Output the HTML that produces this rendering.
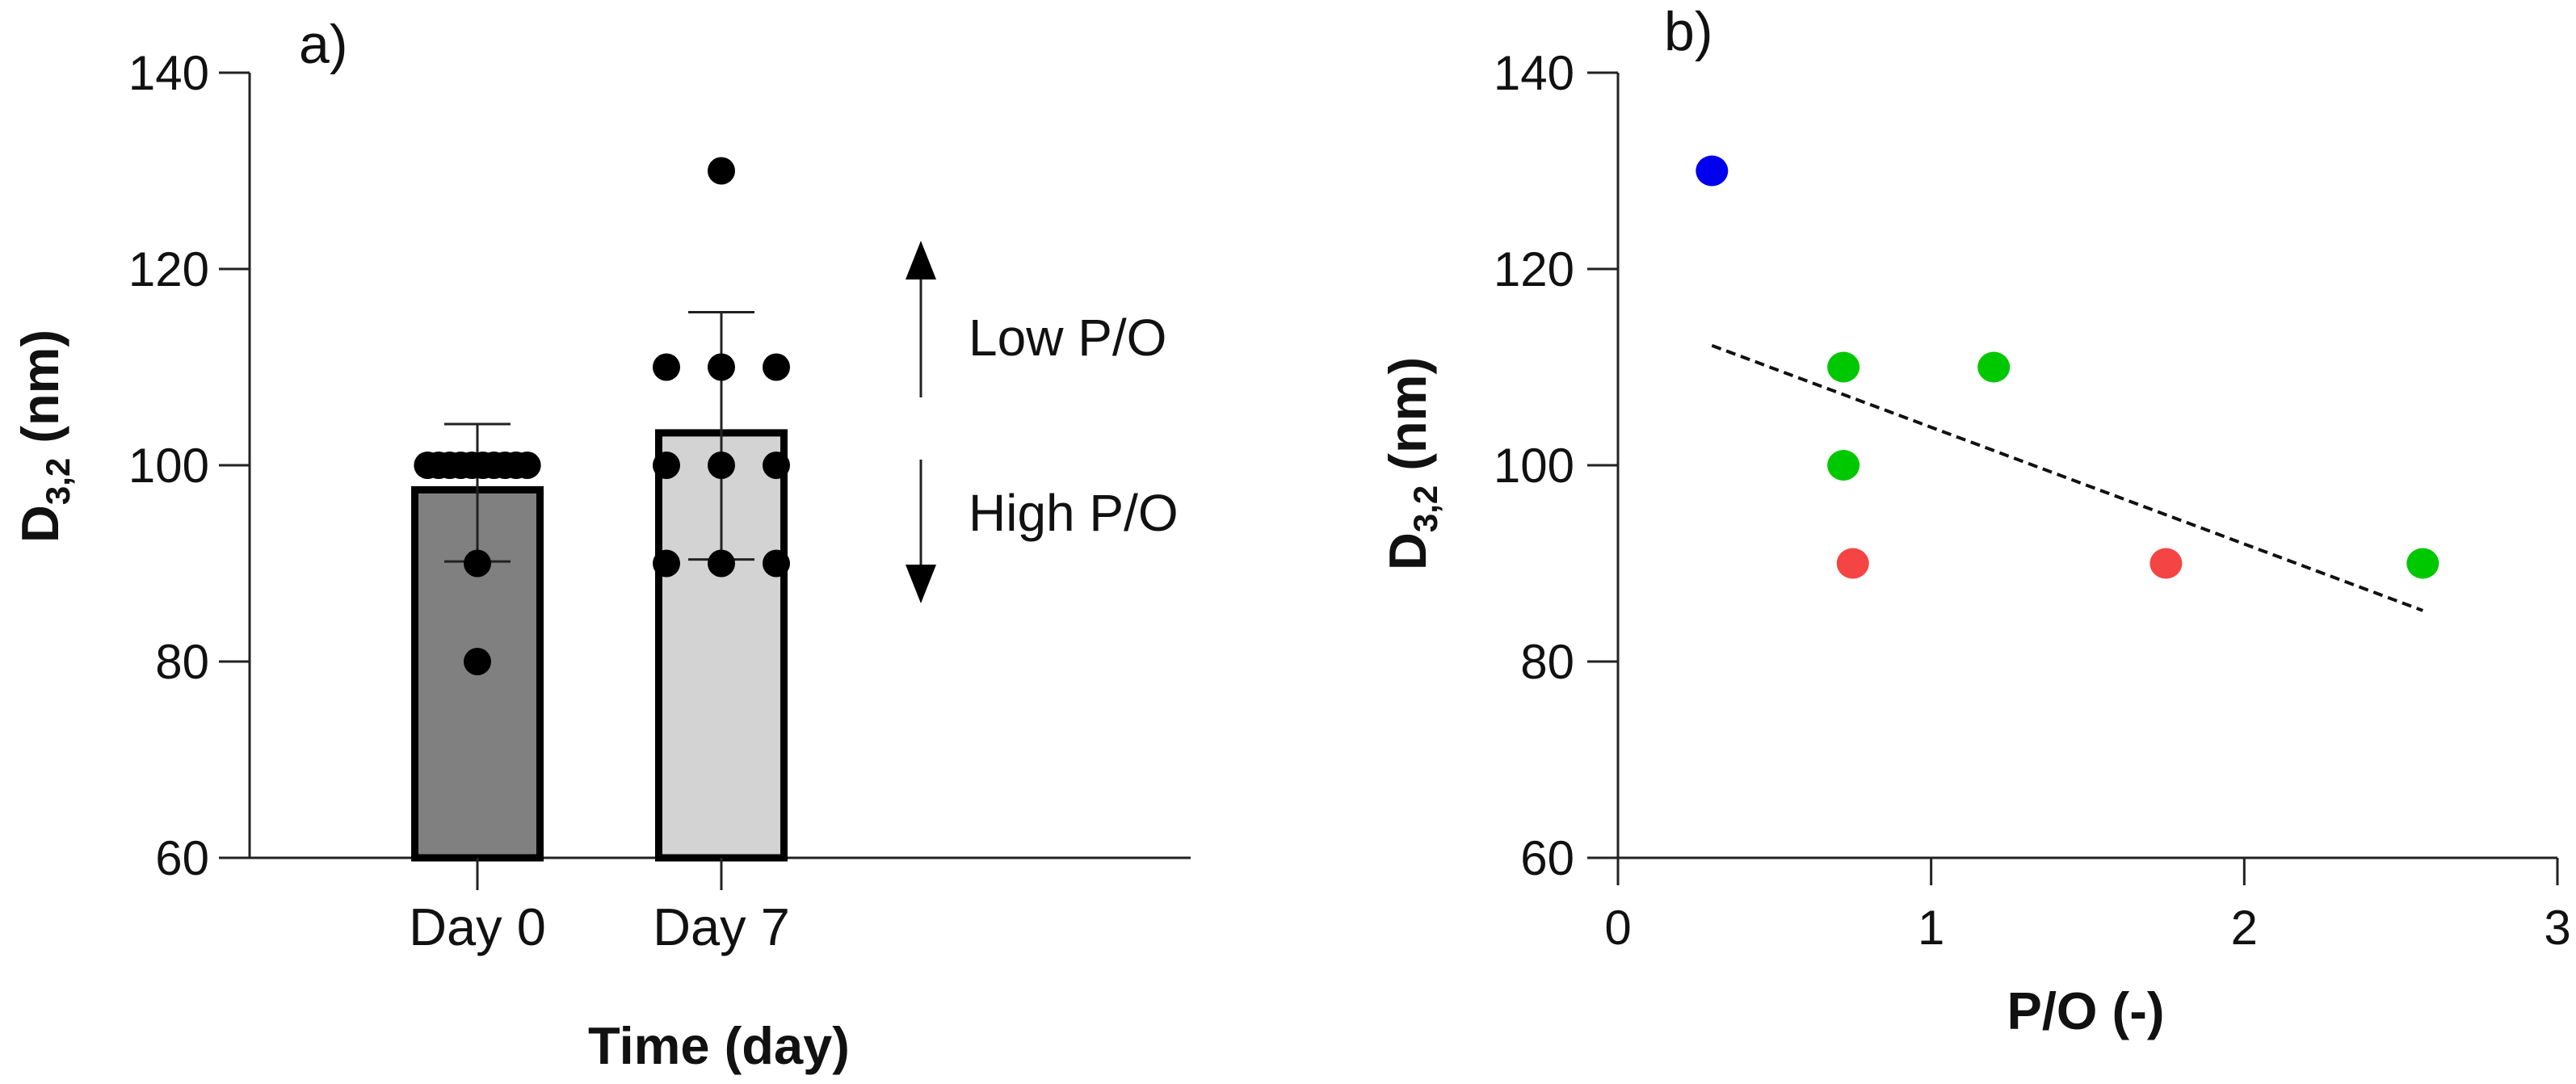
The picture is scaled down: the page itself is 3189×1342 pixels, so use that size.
<!DOCTYPE html>
<html><head><meta charset="utf-8"><style>
html,body{margin:0;padding:0;background:#fff;}
svg{display:block;font-family:"Liberation Sans",Arial,sans-serif;}
</style></head><body>
<svg id="fig" width="3189" height="1342" viewBox="0 0 3189 1342" xmlns="http://www.w3.org/2000/svg">
<g id="panelA"></g>
<g id="panelB"></g>
</svg>
<script>
// ---- Panel a data ----
const barCategories = ["Day 0", "Day 7"];
const barMeans = [97.5, 103.3];
const barErrLow = [90.2, 90.4];
const barErrHigh = [104.2, 115.6];
const day0Points = [100,100,100,100,100,100,100,100,100,100,90,80];
const day7Points = [130,110,110,110,100,100,100,90,90,90];
const yTicksA = [60, 80, 100, 120, 140];
// ---- Panel b data ----
const scatterX = [0.3, 0.72, 1.2, 0.72, 2.57, 0.75, 1.75];
const scatterY = [130, 110, 110, 100, 90, 90, 90];
const scatterGroup = ["blue","green","green","green","green","red","red"];
const trendX = [0.3, 2.57];
const trendY = [112.2, 85.2];
const xTicksB = [0, 1, 2, 3];
const yTicksB = [60, 80, 100, 120, 140];

const NS = "http://www.w3.org/2000/svg";
function mk(tag, attrs, parent, text) {
  const e = document.createElementNS(NS, tag);
  for (const k in attrs) e.setAttribute(k, attrs[k]);
  if (text !== undefined) e.textContent = text;
  parent.appendChild(e);
  return e;
}
const Y0 = 1062, Ypx = (1062 - 90) / 80;
function yS(v) { return Y0 - (v - 60) * Ypx; }

// ===== Panel A =====
const A = document.getElementById("panelA");
const axA = 309;
let e;
e = mk("line", {x1: axA, y1: yS(140), x2: axA, y2: Y0, stroke: "#222", "stroke-width": 3}, A);


e = mk("line", {x1: axA - 3, y1: Y0, x2: 1474, y2: Y0, stroke: "#222", "stroke-width": 3}, A);


yTicksA.forEach(t => {
  e = mk("line", {x1: axA - 38, y1: yS(t), x2: axA, y2: yS(t), stroke: "#222", "stroke-width": 3}, A);
  
  
  e = mk("text", {x: axA - 50, y: yS(t) + 21, "font-size": 60, "text-anchor": "end", fill: "#111"}, A, String(t));
  
  
});
const barCenters = [591, 893];
function xA(i) { return barCenters[i]; }
const barW = 155;
const fills = ["#808080", "#d3d3d3"];
barCategories.forEach((c, i) => {
  const cx = xA(i);
  e = mk("rect", {x: cx - barW / 2, y: yS(barMeans[i]), width: barW, height: Y0 - yS(barMeans[i]), fill: fills[i], stroke: "#000", "stroke-width": 9}, A);
  
  
  e = mk("line", {x1: cx, y1: yS(barErrHigh[i]), x2: cx, y2: yS(barErrLow[i]), stroke: "#222", "stroke-width": 3}, A);
  
  
  [barErrHigh[i], barErrLow[i]].forEach(v => {
    e = mk("line", {x1: cx - 41, y1: yS(v), x2: cx + 41, y2: yS(v), stroke: "#222", "stroke-width": 3}, A);
    
    
  });
  e = mk("line", {x1: cx, y1: Y0, x2: cx, y2: 1102, stroke: "#222", "stroke-width": 3}, A);
  
  
  e = mk("text", {x: cx, y: 1170, "font-size": 65, "text-anchor": "middle", fill: "#111"}, A, c);
  
  
});
function drawPoints(vals, i) {
  const groups = {};
  vals.forEach(v => { groups[v] = (groups[v] || 0) + 1; });
  const seen = {};
  vals.forEach(v => {
    const n = groups[v];
    const k = seen[v] = (seen[v] === undefined ? 0 : seen[v] + 1);
    const spacing = n > 3 ? 13.7 : 68;
    const off = (k - (n - 1) / 2) * spacing;
    e = mk("ellipse", {cx: xA(i) + off, cy: yS(v), rx: 17, ry: 17, fill: "#000"}, A);
    
    
  });
}
drawPoints(day0Points, 0);
drawPoints(day7Points, 1);
e = mk("line", {x1: 1140, y1: 330, x2: 1140, y2: 492, stroke: "#222", "stroke-width": 3}, A);


e = mk("polygon", {points: "1140,298 1121,346 1159,346", fill: "#000"}, A);


e = mk("line", {x1: 1140, y1: 569, x2: 1140, y2: 715, stroke: "#222", "stroke-width": 3}, A);


e = mk("polygon", {points: "1140,747 1121,699 1159,699", fill: "#000"}, A);


e = mk("text", {x: 1199, y: 440, "font-size": 64, fill: "#111"}, A, "Low P/O");


e = mk("text", {x: 1199, y: 657, "font-size": 64, fill: "#111"}, A, "High P/O");


e = mk("text", {x: 890, y: 1317, "font-size": 65, "font-weight": "bold", "text-anchor": "middle", fill: "#111"}, A, "Time (day)");


e = mk("text", {x: 0, y: 0, "font-size": 65, "font-weight": "bold", "text-anchor": "middle", fill: "#111", transform: "translate(72,540) rotate(-90)"}, A);
e.innerHTML = 'D<tspan font-size="42" dy="14">3,2</tspan><tspan dy="-14"> (nm)</tspan>';


e = mk("text", {x: 370, y: 78, "font-size": 68, fill: "#111"}, A, "a)");



// ===== Panel B =====
const B = document.getElementById("panelB");
const axB = 2003, xPx = (3166 - 2003) / 3;
function xB(v) { return axB + v * xPx; }
e = mk("line", {x1: axB, y1: yS(140), x2: axB, y2: Y0, stroke: "#222", "stroke-width": 3}, B);


e = mk("line", {x1: axB - 38, y1: Y0, x2: xB(3), y2: Y0, stroke: "#222", "stroke-width": 3}, B);


yTicksB.forEach(t => {
  e = mk("line", {x1: axB - 38, y1: yS(t), x2: axB, y2: yS(t), stroke: "#222", "stroke-width": 3}, B);
  
  
  e = mk("text", {x: 1949, y: yS(t) + 21, "font-size": 60, "text-anchor": "end", fill: "#111"}, B, String(t));
  
  
});
xTicksB.forEach(t => {
  e = mk("line", {x1: xB(t), y1: Y0, x2: xB(t), y2: 1096, stroke: "#222", "stroke-width": 3}, B);
  
  
  e = mk("text", {x: xB(t), y: 1169, "font-size": 60, "text-anchor": "middle", fill: "#111"}, B, String(t));
  
  
});
e = mk("line", {x1: xB(trendX[0]), y1: yS(trendY[0]), x2: xB(trendX[1]), y2: yS(trendY[1]), stroke: "#111", "stroke-width": 4, "stroke-dasharray": "12 7"}, B);


const colors = {blue: "#0000ee", green: "#00c800", red: "#f44444"};
scatterX.forEach((x, i) => {
  e = mk("ellipse", {cx: xB(x), cy: yS(scatterY[i]), rx: 20, ry: 19, fill: colors[scatterGroup[i]]}, B);
  
  
});
e = mk("text", {x: 2582, y: 1274, "font-size": 65, "font-weight": "bold", "text-anchor": "middle", fill: "#111"}, B, "P/O (-)");


e = mk("text", {x: 0, y: 0, "font-size": 65, "font-weight": "bold", "text-anchor": "middle", fill: "#111", transform: "translate(1765,574) rotate(-90)"}, B);
e.innerHTML = 'D<tspan font-size="42" dy="14">3,2</tspan><tspan dy="-14"> (nm)</tspan>';


e = mk("text", {x: 2060, y: 62, "font-size": 68, fill: "#111"}, B, "b)");


</script>
</body></html>
